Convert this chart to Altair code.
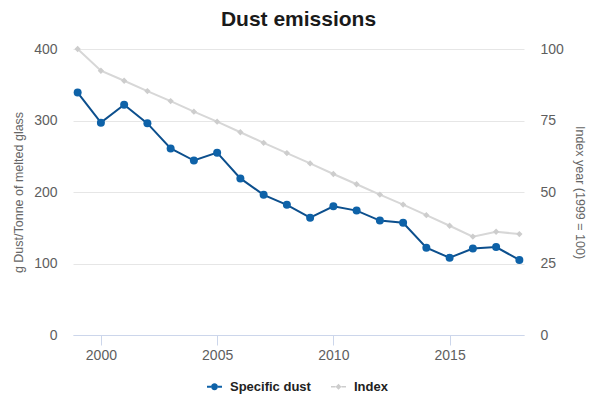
import altair as alt
import pandas as pd

years = list(range(1999, 2019))
specific_dust = [339, 297, 322, 296, 261, 244, 255, 219, 196, 182,
                 164, 180, 174, 160, 157, 122, 108, 121, 123, 105]
index_vals = [100, 92.4, 88.9, 85.3, 81.8, 78.1, 74.6, 70.9, 67.2, 63.6,
              60.0, 56.3, 52.7, 49.1, 45.6, 41.9, 38.2, 34.4, 36.1, 35.3]
series_names = ["Specific dust", "Index"]
x_ticks = [2000, 2005, 2010, 2015]
left_ticks = [0, 100, 200, 300, 400]
right_ticks = [0, 25, 50, 75, 100]

dust_df = pd.DataFrame({"year": years, "value": specific_dust, "series": series_names[0]})
idx_df = pd.DataFrame({"year": years, "value": index_vals, "series": series_names[1]})
all_df = pd.concat([dust_df, idx_df], ignore_index=True)

FONT = "Liberation Sans"
BLUE_LINE = "#0c4f8d"
BLUE_PT = "#0e62a8"
GREY_LINE = "#d7d7d7"
GREY_PT = "#cdcdcd"
W, H = 451, 286

xenc = alt.X("year:Q",
             scale=alt.Scale(domain=[1998.8, 2018.2], nice=False, zero=False),
             axis=alt.Axis(values=x_ticks, format="d", title=None, grid=False,
                           domainColor="#ccd6eb", tickColor="#ccd6eb", tickSize=10,
                           labelPadding=3, labelFontSize=14, labelColor="#5e5e5e",
                           labelFont=FONT))

left_axis = alt.Axis(values=left_ticks, title="g Dust/Tonne of melted glass",
                     grid=True, gridColor="#e6e6e6", domain=False, ticks=False,
                     labelPadding=16, labelFontSize=14, labelColor="#5e5e5e",
                     labelFont=FONT, titleFont=FONT, titleFontSize=12.5,
                     titleFontWeight="normal", titleColor="#666666",
                     titleX=-55, titleY=H / 2, titleBaseline="middle", titleAngle=270)
right_axis = alt.Axis(values=right_ticks, title="Index year (1999 = 100)",
                      orient="right", grid=False, domain=False, ticks=False,
                      labelPadding=16, labelFontSize=14, labelColor="#5e5e5e",
                      labelFont=FONT, titleFont=FONT, titleFontSize=12.5,
                      titleFontWeight="normal", titleColor="#666666",
                      titleX=55, titleY=H / 2, titleBaseline="middle", titleAngle=90)

base_dust = alt.Chart(dust_df).encode(
    x=xenc,
    y=alt.Y("value:Q", scale=alt.Scale(domain=[0, 400], nice=False), axis=left_axis),
)
dust_layer = alt.layer(
    base_dust.mark_line(color=BLUE_LINE, strokeWidth=2),
    base_dust.mark_point(filled=True, color=BLUE_PT, size=64, opacity=1, shape="circle"),
)

base_idx = alt.Chart(idx_df).encode(
    x=xenc,
    y=alt.Y("value:Q", scale=alt.Scale(domain=[0, 100], nice=False), axis=right_axis),
)
idx_layer = alt.layer(
    base_idx.mark_line(color=GREY_LINE, strokeWidth=2),
    base_idx.mark_point(filled=True, color=GREY_PT, size=40, opacity=1, shape="diamond"),
)

circle_sym = ("M-1,-0.13H-0.46V0.13H-1Z M0.46,-0.13H1V0.13H0.46Z "
              "M0.46,0A0.46,0.46 0 1 1 -0.46,0A0.46,0.46 0 1 1 0.46,0Z")
diamond_sym = ("M-1,-0.1H-0.4V0.1H-1Z M0.4,-0.1H1V0.1H0.4Z "
               "M0,-0.4L0.4,0L0,0.4L-0.4,0Z")

leg = alt.Legend(title=None, orient="none", legendX=134, legendY=330,
                 direction="horizontal")
legend_layer = alt.Chart(all_df).transform_filter("false").mark_point(
    filled=True, opacity=1
).encode(
    x=xenc,
    color=alt.Color("series:N",
                    scale=alt.Scale(domain=series_names, range=[BLUE_PT, GREY_PT]),
                    legend=leg),
    shape=alt.Shape("series:N",
                    scale=alt.Scale(domain=series_names, range=[circle_sym, diamond_sym]),
                    legend=leg),
)

chart = alt.layer(dust_layer, idx_layer, legend_layer).resolve_scale(
    y="independent"
).properties(
    width=W, height=H,
    title=alt.TitleParams("Dust emissions", font=FONT, fontSize=21, fontWeight="bold",
                          color="#1a1a1a", anchor="middle", offset=12),
    autosize=alt.AutoSizeParams(type="none"),
    padding={"left": 65, "top": 41, "right": 68, "bottom": 69},
    background="white",
).configure_view(stroke=None).configure_legend(
    symbolSize=225, symbolStrokeWidth=0,
    labelFont=FONT, labelFontSize=13, labelFontWeight="bold", labelColor="#222222",
    labelOffset=8, columnPadding=20,
)

chart.save("out.html", embed_options={"renderer": "svg", "actions": False})
